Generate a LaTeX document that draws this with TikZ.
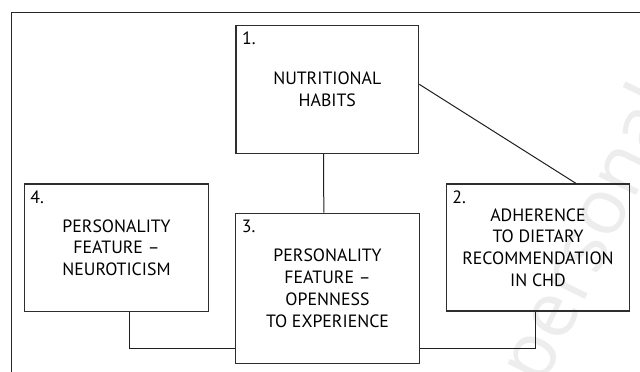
\documentclass[tikz,border=0pt]{standalone}
\usepackage{fontspec}
\setmainfont{PT Sans}
\newfontfamily\wmfont{Open Sans}
\begin{document}
\begin{tikzpicture}[x=1pt,y=-1pt,
  box/.style={draw=black!82,line width=1.2pt,inner sep=0pt,align=center,
    font=\fontsize{17.8}{21.7}\selectfont,text=black},
  numlabel/.style={anchor=base west,inner sep=0pt,font=\fontsize{17.8}{21.7}\selectfont,text=black},
  link/.style={draw=black!88,line width=1pt}]
\useasboundingbox (0,0) rectangle (640,372);
\clip (0,0) rectangle (640,372);
% watermark
\node[rotate=64,text=black!7,font=\wmfont\fontsize{78}{78}\selectfont,inner sep=0pt] (wm) at (594,236) {personal};
% outer frame
\coordinate (fb) at (11.3,380);
\coordinate (fc) at (11.3,12.3);
\coordinate (fr) at (650,12.3);
\draw[draw=black!85,line width=1.1pt] (fb) -- (fc) -- (fr);
% boxes
\node[box,minimum width=182.7pt,minimum height=127.6pt] (b1) at (327.3,89.5) {NUTRITIONAL\\HABITS};
\node[box,minimum width=184.4pt,minimum height=127.3pt] (b4) at (116.5,247.7) {PERSONALITY\\FEATURE –\\NEUROTICISM};
\node[box,minimum width=183.4pt,minimum height=127pt] (b2) at (538,247.5) {ADHERENCE\\TO DIETARY\\RECOMMENDATION\\IN CHD};
\node[box,minimum width=183.6pt,minimum height=150pt] (b3) at (327.5,288.3) {PERSONALITY\\FEATURE –\\OPENNESS\\TO EXPERIENCE};
% numbers
\node[numlabel] (n1) at ([xshift=6.5pt,yshift=-19pt]b1.north west) {1.};
\node[numlabel] (n2) at ([xshift=6.5pt,yshift=-20pt]b2.north west) {2.};
\node[numlabel] (n3) at ([xshift=6.5pt,yshift=-20pt]b3.north west) {3.};
\node[numlabel] (n4) at ([xshift=6.5pt,yshift=-20pt]b4.north west) {4.};
% connectors
\draw[link] ([xshift=-3.7pt]b1.south) -- ([xshift=-3.7pt]b3.north);
\draw[link] ([yshift=5.2pt]b1.east) -- ([xshift=38pt]b2.north);
\draw[link] ([xshift=13.2pt]b4.south) |- ([yshift=-59.7pt]b3.west);
\draw[link] ([xshift=-3pt]b2.south) |- ([yshift=-59.7pt]b3.east);
\end{tikzpicture}
\end{document}
